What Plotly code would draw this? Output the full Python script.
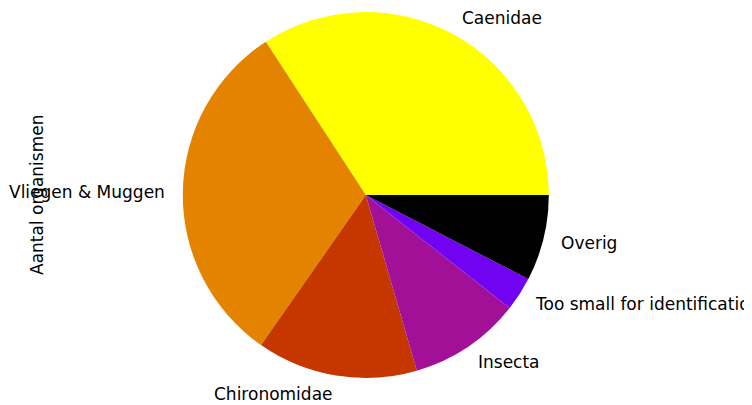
import math
import plotly.graph_objects as go

labels = ["Caenidae", "Vliegen & Muggen", "Chironomidae", "Insecta",
          "Too small for identification", "Overig"]
values = [342, 311, 142, 99, 30, 76]
colors = ["#ffff00", "#e48300", "#c63700", "#a11096", "#7202f2", "#000000"]
ylabel = "Aantal organismen"

W, H = 752, 405
OFF = 8  # page body margin offset
cx, cy, r = 365.8 - OFF, 195.0 - OFF, 183.0

total = sum(values)
rot = 90 - values[0] / total * 360

fig = go.Figure(go.Pie(
    labels=labels, values=values, sort=False, direction="counterclockwise",
    rotation=rot, textinfo="none", hoverinfo="label+value",
    marker=dict(colors=colors, line=dict(width=0)),
    domain=dict(x=[(cx - r) / W, (cx + r) / W], y=[1 - (cy + r) / H, 1 - (cy - r) / H]),
    showlegend=False,
))

FS = 17
ann = []
cum = 0.0
for lab, v in zip(labels, values):
    mid = (cum + v / 2) / total * 2 * math.pi
    cum += v
    px = cx + 1.1 * r * math.cos(mid)
    py = cy - 1.1 * r * math.sin(mid)
    left = math.cos(mid) > 0
    ann.append(dict(x=(px + (-2 if left else 2)) / W, y=1 - py / H, xref="paper", yref="paper",
                    text=lab, showarrow=False,
                    xanchor="left" if left else "right",
                    yanchor="middle",
                    font=dict(family="DejaVu Sans", size=FS, color="#000000")))
ann.append(dict(x=(37 - OFF) / W, y=1 - (195 - OFF) / H, xref="paper", yref="paper", text=ylabel,
                showarrow=False, textangle=-90, xanchor="center", yanchor="middle",
                font=dict(family="DejaVu Sans", size=FS, color="#000000")))

fig.update_layout(width=W, height=H, margin=dict(l=0, r=0, t=0, b=0),
                  paper_bgcolor="white", plot_bgcolor="white", annotations=ann)
fig.write_html("out.html")
